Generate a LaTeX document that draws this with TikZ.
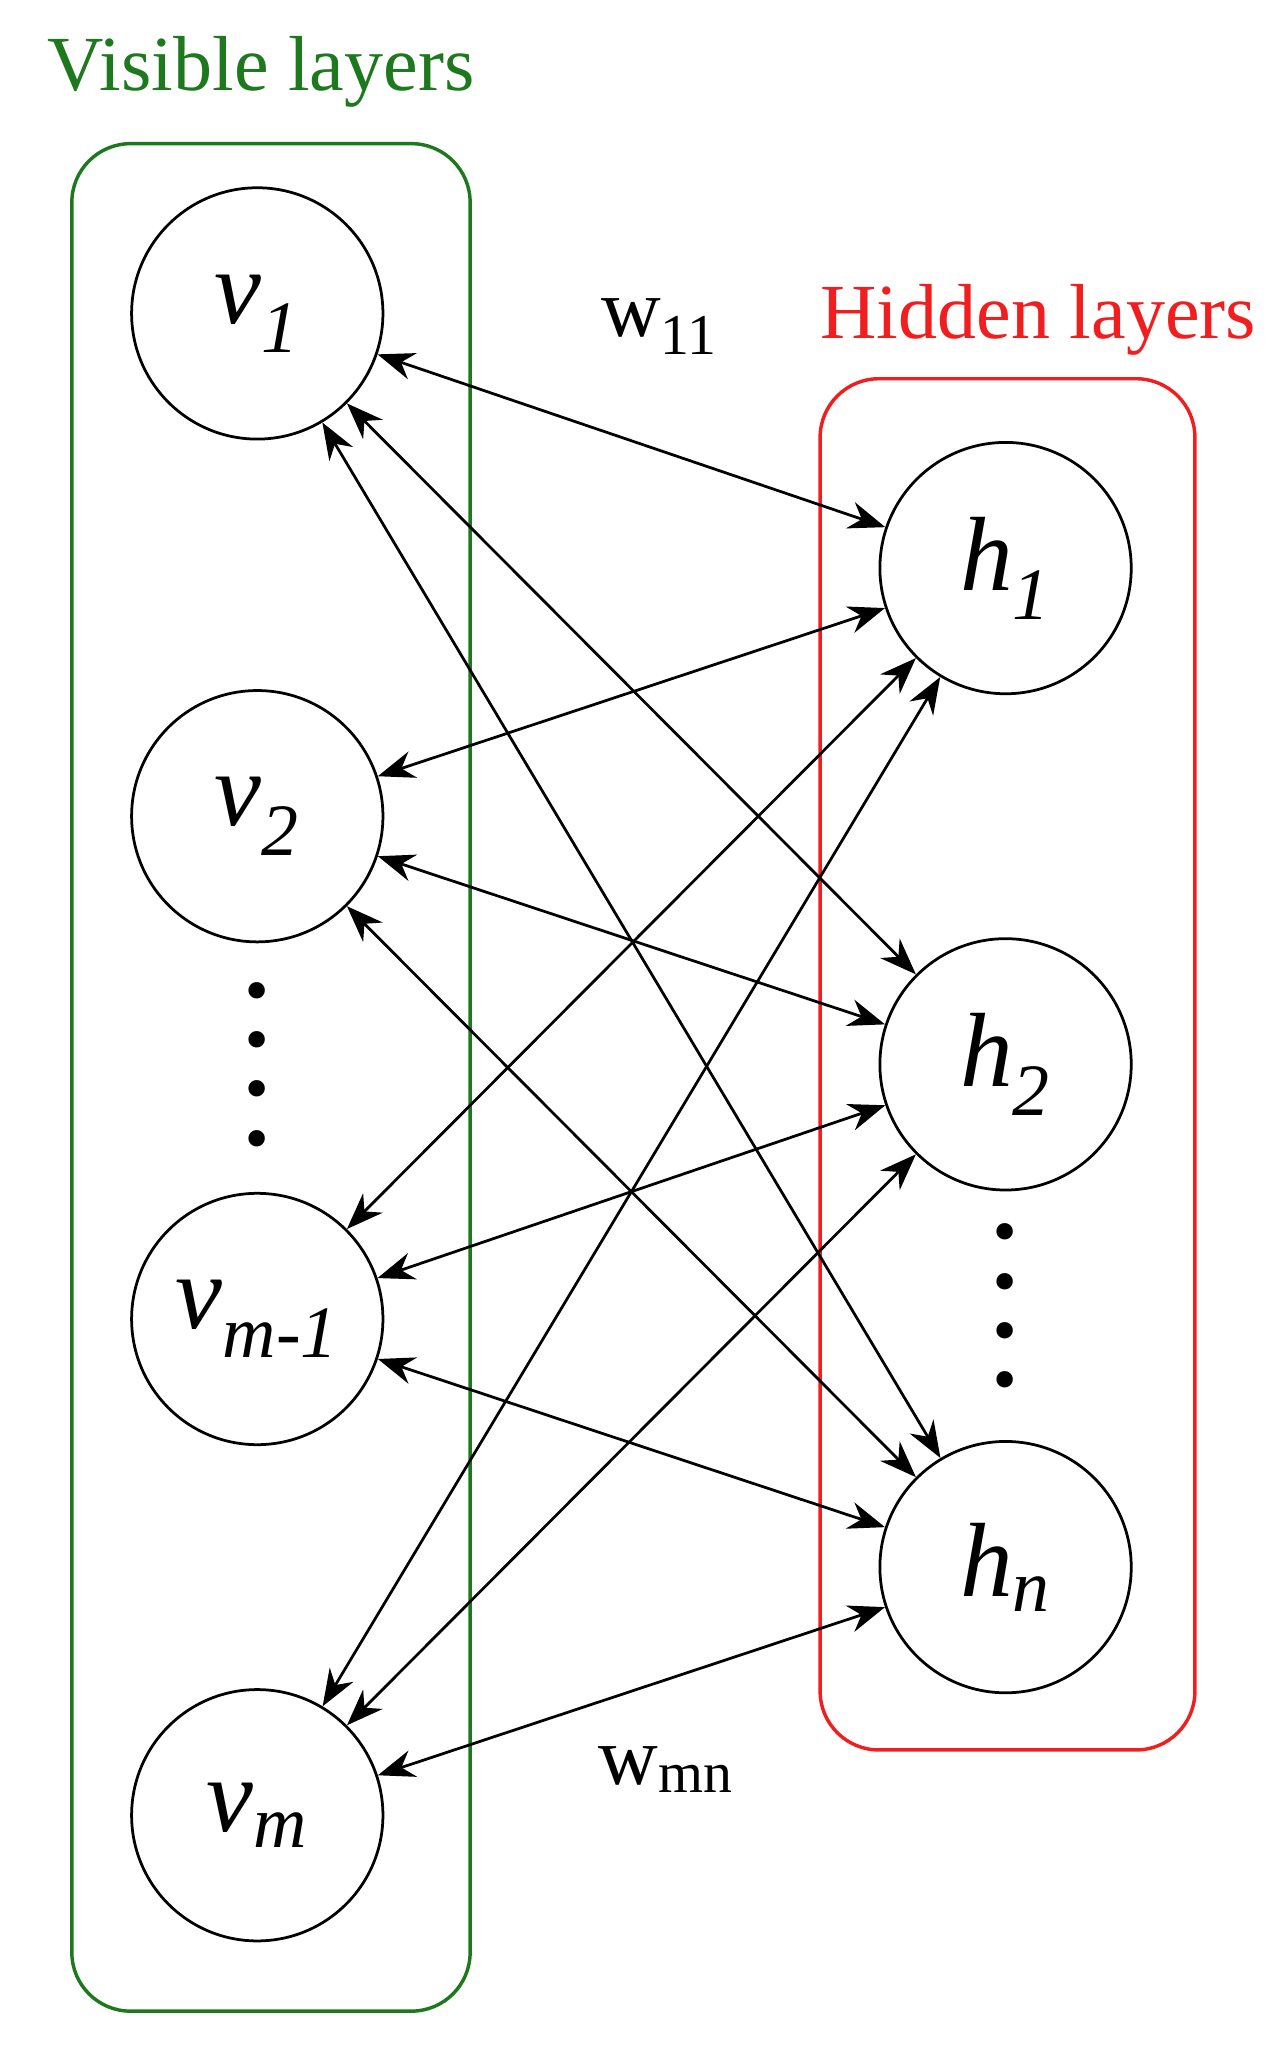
\documentclass[tikz,border=0pt]{standalone}
\usepackage{fontspec}
\setmainfont{Liberation Serif}
\usetikzlibrary{arrows.meta}

\begin{document}
\begin{tikzpicture} [
    x=0.02cm, y=-0.02cm,
    unit/.style  = {draw, circle, line width=1.2pt,
                    minimum size=3.85cm, inner sep=0pt,
                    font=\fontsize{46}{50}\selectfont\itshape},
    layer/.style = {rounded corners=0.9cm, line width=1.5pt},
    arr/.style   = {line width=1.2pt,
                    {Stealth[length=16pt,width=12pt]}-{Stealth[length=16pt,width=12pt]}},
    dots/.style  = {align=center, inner sep=0pt,
                    font=\fontsize{44}{21.5}\selectfont\bfseries}
]
\useasboundingbox (0,0) rectangle (970,1569);
\definecolor{vgreen}{RGB}{30,120,30}
\definecolor{hred}{RGB}{240,30,30}
% layers
\draw[layer, vgreen] (55,110) rectangle (360,1540);
\draw[layer, hred] (628,290) rectangle (915,1340);
\node (vis) [text=vgreen, font=\fontsize{34}{40}\selectfont] at (200,55) {Visible layers};
\node (hid) [text=hred, font=\fontsize{34}{40}\selectfont] at (795,245) {Hidden layers};
% units
\node (v1) [unit] at (197,240)  {v\textsubscript{1}};
\node (v2) [unit] at (197,625)  {v\textsubscript{2}};
\node (v3) [unit] at (197,1010) {v\textsubscript{m-1}};
\node (v4) [unit] at (197,1390) {v\textsubscript{m}};
\node (h1) [unit] at (770,435)  {h\textsubscript{1}};
\node (h2) [unit] at (770,815)  {h\textsubscript{2}};
\node (h3) [unit] at (770,1200) {h\textsubscript{n}};
\node (vd) [dots] at (197,815) {.\\.\\.\\.};
\node (hd) [dots] at (770,1000) {.\\.\\.\\.};
% weights
\node (w11) [font=\fontsize{36}{40}\selectfont] at (505,250) {w\textsubscript{11}};
\node (wmn) [font=\fontsize{36}{40}\selectfont] at (510,1355) {w\textsubscript{mn}};
% connections
\foreach \i in {1,...,4}
  \foreach \j in {1,2,3}
    \draw[arr] (v\i) -- (h\j);
\end{tikzpicture}
\end{document}
